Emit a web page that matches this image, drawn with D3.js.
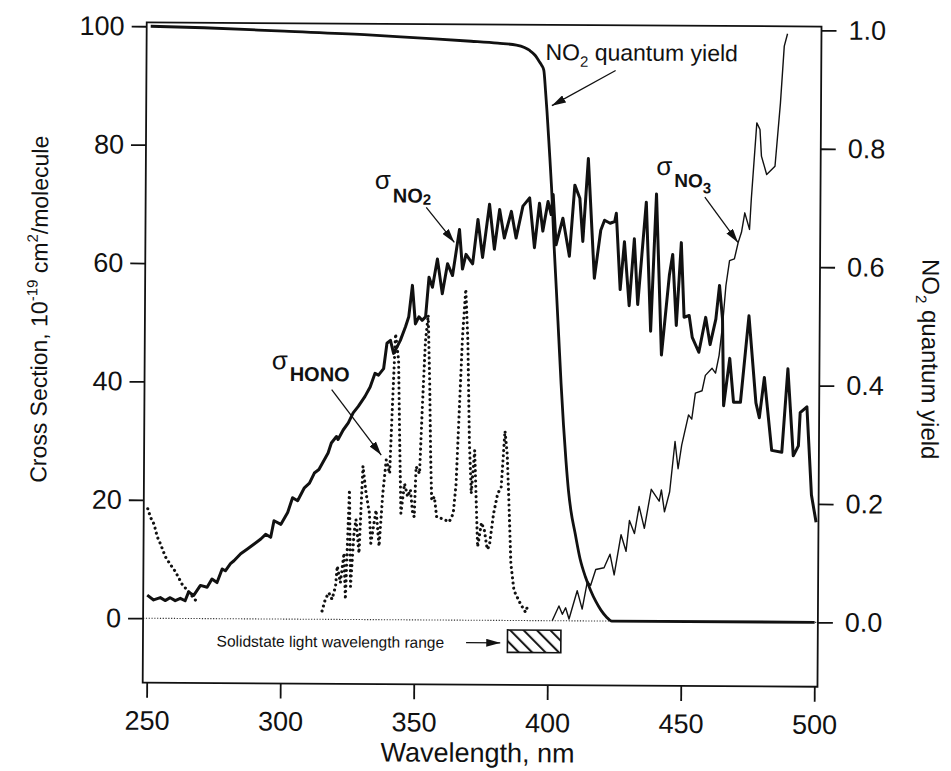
<!DOCTYPE html>
<html>
<head>
<meta charset="utf-8">
<script src="https://cdn.jsdelivr.net/npm/d3@7"></script>
<style>
  body { margin: 0; background: #fff; }
  svg { font-family: "Liberation Sans", Arial, sans-serif; }
</style>
</head>
<body>
<svg id="chart" width="951" height="771"></svg>
<script>
// NO2 cross section (10^-19 cm2/molecule) vs wavelength (nm)
const no2Wl = [250, 252.4, 254.9, 256.7, 258.6, 260.5, 262.4, 264.2, 265.5, 267.4, 269.9, 272.4, 274.2, 276.1, 278, 279.2,
  281.1, 282.4, 284.9, 287.4, 289.8, 292.4, 294.2, 296.1, 297.3, 299.9, 302.4, 304.2, 306.1, 308.6, 310.5, 312.3, 314,
  317.4, 318.6, 320.5, 321.1, 323, 324.9, 326.7, 328.6, 331.1, 333, 334.8, 336.1, 338, 339.2, 340.5, 341.7, 343, 344.2,
  346.1, 347.3, 348.6, 349.8, 351.1, 352.3, 353.6, 354.8, 356.1, 357.9, 359.8, 361.7, 363.6, 366.1, 367.3, 368.6, 371.1,
  373, 374.8, 377.3, 379.2, 381.1, 382.9, 385.5, 387.3, 389.8, 392.3, 394.2, 396, 397.3, 399.2, 400.4, 401.1, 402.3,
  404.8, 407.3, 409.2, 411.1, 412.3, 414.2, 416.7, 419, 420.4, 422.5, 424.2, 424.8, 426.4, 427.9, 429.8, 431.6, 433,
  436, 437.9, 439.8, 442, 444.8, 446, 447.5, 449.2, 450.4, 452.3, 453.5, 456, 458.5, 460.2, 462.3, 463.6, 464.8, 465.4,
  467.6, 469.1, 471.7, 474.7, 477.5, 478.8, 480.6, 483.5, 487.3, 489.4, 491.6, 493.5, 494.1, 496.6, 498.5, 500.3];
const no2Cs = [3.9, 3.1, 3.5, 3.0, 3.5, 3.0, 3.4, 3.0, 4.5, 3.9, 5.6, 5.3, 6.7, 6.1, 8.4, 8.1,
  9.3, 9.8, 11, 11.8, 12.6, 13.5, 14.3, 13.8, 16.6, 16, 18, 20.5, 20, 22.2, 23, 24.7, 25.3,
  28.1, 29.8, 30.9, 30.4, 32, 33.2, 34.9, 36, 37.7, 39.3, 41.6, 41.3, 42.4, 46.7, 47.2, 45, 46.1, 47.2,
  49.5, 51.2, 56.5, 50, 51.2, 50.6, 51.2, 57.9, 56.2, 61, 55.1, 60.2, 58.2, 66, 59.3, 61.8, 60.2,
  67.7, 61.3, 70.3, 62.7, 69.4, 64.6, 69.1, 64.6, 70, 71.4, 63, 70.5, 65.8, 70.8, 68.6, 72, 63.5,
  68, 61.6, 73.6, 71.4, 64.1, 78.1, 57.9, 66, 67.7, 67.2, 67.5, 68.9, 56, 64.1, 53.3, 64.6, 53.5,
  70.8, 49, 72.2, 45, 58.5, 62, 50, 64, 51.4, 51.7, 48, 45.5, 51.4, 46.8, 51.1, 56.8, 51.1, 36.5,
  44.5, 37.1, 37.1, 51.7, 37, 34.5, 41.3, 29, 28.7, 42.8, 28.1, 29.8, 35.4, 36.4, 21.5, 16.9];

// NO3 cross section
const no3Wl = [401.7, 404.2, 405.5, 406.7, 408, 411, 412.9, 414.8, 416, 417.9, 421, 423.2, 424.8, 427.3, 429.2, 430.4,
  432.3, 434, 436, 438.5, 441.5, 442.3, 443.5, 445.4, 447.3, 448.5, 449.8, 452.3, 453.5, 454.8, 457.3, 458.5, 461,
  462.3, 463.6, 464.8, 466, 467.3, 469.1, 470.5, 471.7, 472.9, 474.7, 475.3, 477.2, 478.4, 479, 481, 484.1, 486,
  487.3, 488.5];
const no3Cs = [0, 2.5, 1.1, 2.2, 0.3, 5.1, 2, 6.7, 6, 8.7, 9, 11.3, 7.8, 14.6, 11.8, 17,
  14.8, 19.4, 15.7, 22.3, 20.3, 22.2, 18.5, 21.9, 30.4, 25.8, 29.8, 34.9, 34.2, 38.6, 39, 41.6, 42.8,
  42, 45, 50, 56.8, 61, 61.3, 64.1, 65.8, 69.1, 66.3, 71.4, 84.3, 83.2, 78.7, 75.6, 77, 87.7,
  97.3, 99.4];

// HONO cross section (null = no data between the two bands)
const honoWl = [250, 251.1, 252.4, 253.6, 254.9, 256.7, 258.6, 260.5, 263, 265.5, 269.2, 292,
  315.5, 316.7, 318, 319.2, 320.5, 321.1, 322.3, 323.6, 324.2, 325.5, 326.1, 327.3, 328, 329.2, 330.5, 331.7,
  333, 333.6, 335.5, 336.7, 338, 339.2, 340.5, 341.3, 342.4, 343.6, 344.2, 344.8, 346.1, 347.3, 348.3, 349.2,
  349.8, 350.4, 351.7, 352.6, 353.6, 354.6, 355.3, 355.8, 356.3, 357.3, 358.2, 359.8, 362.9, 364.4, 365.4,
  366.4, 367.5, 368.6, 369.5, 370.3, 371.1, 372.3, 373.6, 375, 376.1, 377.2, 378, 379.5, 381, 382.3, 383.6,
  384.5, 385.4, 386.1, 387.3, 389.8, 391.7, 392.3];
const honoCs = [18.5, 17, 15.9, 13.8, 12.5, 10.4, 9.1, 7.9, 5.8, 4.5, 2.5, null,
  1.4, 3.4, 4.5, 3.4, 5.6, 9, 6.2, 11.2, 3.4, 21.9, 5.6, 14.6, 16.9, 11.2, 25.9, 21.4,
  18, 12.9, 18.5, 12.4, 21.4, 27, 24.7, 35, 48.3, 43.8, 30, 18, 23, 20.8, 22, 18,
  17.4, 25.9, 24.7, 36, 47, 51.5, 40, 28, 20.2, 20.8, 17.4, 17.2, 16.6, 18, 23,
  35, 48, 55.9, 47, 30, 21.4, 28.7, 12.4, 16.5, 15.2, 12, 12.6, 18, 21.4, 22.5, 32,
  28, 18, 9.6, 5.1, 2.8, 1.4, 2.2];

// NO2 quantum yield (right axis)
const qyWl = [250, 270, 300, 330, 350, 370, 380, 387, 390, 392, 394, 395.5, 396.5, 397.3, 398, 398.6, 399.5, 400.5,
  401.6, 402.5, 403.5, 404.5, 405.5, 406.5, 407.5, 408.5, 410, 412, 414, 416, 418, 420, 422, 424, 500];
const qyVal = [1.0, 0.998, 0.993, 0.988, 0.983, 0.978, 0.975, 0.972, 0.968, 0.963, 0.955, 0.945, 0.938, 0.93, 0.895, 0.86, 0.8, 0.73,
  0.63, 0.56, 0.48, 0.4, 0.33, 0.27, 0.22, 0.185, 0.15, 0.105, 0.075, 0.052, 0.033, 0.018, 0.007, 0, 0];

const xTicks = [250, 300, 350, 400, 450, 500];
const yTicks = [0, 20, 40, 60, 80, 100];
const qyTicks = [0, 0.2, 0.4, 0.6, 0.8, 1.0];
const lightRange = [385, 405];

const ink = "#111";
const plot = { left: 144.7, right: 819.5, top: 24.5, bottom: 684.7 };

const svg = d3.select("#chart");
// the scanned figure sits slightly rotated on the page
const g = svg.append("g").attr("transform", "rotate(0.35,482,355)");

const x = d3.scaleLinear().domain([248.5, 501.2]).range([plot.left, plot.right]);
const y = d3.scaleLinear().domain([-10.88, 100.64]).range([plot.bottom, plot.top]);
const yR = d3.scaleLinear().domain([-0.1088, 1.0064]).range([plot.bottom, plot.top]);

const defs = svg.append("defs");
defs.append("marker")
    .attr("id", "head")
    .attr("viewBox", "0 0 14 8")
    .attr("refX", 14).attr("refY", 4)
    .attr("markerWidth", 14).attr("markerHeight", 8)
    .attr("markerUnits", "userSpaceOnUse")
    .attr("orient", "auto")
  .append("path")
    .attr("d", "M0,0L14,4L0,8Z")
    .attr("fill", ink);

defs.append("pattern")
    .attr("id", "hatch")
    .attr("patternUnits", "userSpaceOnUse")
    .attr("width", 9.5).attr("height", 9.5)
    .attr("patternTransform", "rotate(-45)")
  .append("line")
    .attr("x1", 2).attr("y1", 0).attr("x2", 2).attr("y2", 9.5)
    .attr("stroke", ink).attr("stroke-width", 2);

// zero line
g.append("line")
    .attr("x1", plot.left).attr("x2", plot.right)
    .attr("y1", y(0)).attr("y2", y(0))
    .attr("stroke", "#333").attr("stroke-width", 1.1)
    .attr("stroke-dasharray", "1.2,1.6");

const line = d3.line()
    .defined(d => d[1] != null)
    .x(d => x(d[0]))
    .y(d => y(d[1]));

g.append("path")
    .attr("d", line(d3.zip(honoWl, honoCs)))
    .attr("fill", "none").attr("stroke", ink)
    .attr("stroke-width", 3.1).attr("stroke-linecap", "round")
    .attr("stroke-dasharray", "0.01,5.2");

g.append("path")
    .attr("d", line(d3.zip(no3Wl, no3Cs)))
    .attr("fill", "none").attr("stroke", ink)
    .attr("stroke-width", 1.4).attr("stroke-linejoin", "round");

g.append("path")
    .attr("d", line(d3.zip(no2Wl, no2Cs)))
    .attr("fill", "none").attr("stroke", ink)
    .attr("stroke-width", 3).attr("stroke-linejoin", "round");

const qyLine = d3.line()
    .curve(d3.curveMonotoneX)
    .x(d => x(d[0]))
    .y(d => yR(d[1]));

g.append("path")
    .attr("d", qyLine(d3.zip(qyWl, qyVal)))
    .attr("fill", "none").attr("stroke", ink)
    .attr("stroke-width", 2.8);

// solid state light box
g.append("rect")
    .attr("x", x(lightRange[0])).attr("width", x(lightRange[1]) - x(lightRange[0]))
    .attr("y", y(-1.6)).attr("height", y(-5.4) - y(-1.6))
    .attr("fill", "url(#hatch)")
    .attr("stroke", ink).attr("stroke-width", 1.6);

g.append("text")
    .attr("x", x(276.1)).attr("y", y(-4.7))
    .attr("font-size", 15.5).attr("fill", ink)
    .text("Solidstate light wavelength range");

// annotation arrows [from, to] in data units
const arrows = [
  [[424.2, 93.0], [400.4, 87.0]],
  [[353.6, 69.7], [364.2, 63.8]],
  [[457.9, 71.7], [470.4, 64.1]],
  [[318.6, 38.8], [337.3, 27.8]],
  [[369.5, -3.8], [382.3, -3.8]]
];
g.selectAll(".arrow")
    .data(arrows)
    .enter().append("line")
    .attr("class", "arrow")
    .attr("x1", d => x(d[0][0])).attr("y1", d => y(d[0][1]))
    .attr("x2", d => x(d[1][0])).attr("y2", d => y(d[1][1]))
    .attr("stroke", ink).attr("stroke-width", 1.3)
    .attr("marker-end", "url(#head)");

// NO2 quantum yield label
const qyLabel = g.append("text")
    .attr("x", x(397.9)).attr("y", y(94.7))
    .attr("font-size", 23).attr("fill", ink);
qyLabel.append("tspan").text("NO");
qyLabel.append("tspan").attr("font-size", 15).attr("dy", 6.5).text("2");
qyLabel.append("tspan").attr("dy", -6.5).text(" quantum yield");

// sigma labels
function sigma(lx, ly, sub, subSize, idx, dyMain, dyIdx) {
  const t = g.append("text")
      .attr("x", x(lx)).attr("y", y(ly))
      .attr("font-size", 26).attr("fill", ink);
  t.append("tspan").text("σ");
  t.append("tspan").attr("dx", 2).attr("dy", dyMain)
      .attr("font-size", subSize).attr("font-weight", "bold").text(sub);
  if (idx) t.append("tspan").attr("dy", dyIdx)
      .attr("font-size", 15).attr("font-weight", "bold").text(idx);
}
sigma(334.3, 72.8, "NO", 20, "2", 13.7, 2);
sigma(439.7, 75.4, "NO", 19, "3", 12, 6);
sigma(296.1, 42.2, "HONO", 20, null, 11.7, 0);

// axes
const fontSize = 27;
const xAxis = g.append("g")
    .attr("transform", "translate(0," + plot.bottom + ")")
    .call(d3.axisBottom(x).tickValues(xTicks).tickSize(15).tickPadding(13));
const yAxis = g.append("g")
    .attr("transform", "translate(" + plot.left + ",0)")
    .call(d3.axisLeft(y).tickValues(yTicks).tickSize(15).tickPadding(7));
const yAxisR = g.append("g")
    .attr("transform", "translate(" + plot.right + ",0)")
    .call(d3.axisRight(yR).tickValues(qyTicks).tickSize(15).tickPadding(12).tickFormat(d3.format(".1f")));

[xAxis, yAxis, yAxisR].forEach(a => {
  a.select(".domain").remove();
  a.selectAll(".tick line").attr("stroke", ink).attr("stroke-width", 1.8);
  a.selectAll(".tick text")
      .attr("font-family", "Liberation Sans, Arial, sans-serif")
      .attr("font-size", fontSize).attr("fill", ink);
});

// frame
g.append("rect")
    .attr("x", plot.left).attr("y", plot.top)
    .attr("width", plot.right - plot.left).attr("height", plot.bottom - plot.top)
    .attr("fill", "none").attr("stroke", ink).attr("stroke-width", 1.8);

// axis titles
g.append("text")
    .attr("x", 480).attr("y", 762)
    .attr("text-anchor", "middle")
    .attr("font-size", fontSize).attr("fill", ink)
    .text("Wavelength, nm");

const leftTitle = g.append("text")
    .attr("transform", "translate(47,312) rotate(-90)")
    .attr("text-anchor", "middle")
    .attr("font-size", 23).attr("fill", ink);
leftTitle.append("tspan").text("Cross Section, 10");
leftTitle.append("tspan").attr("font-size", 15).attr("dy", -10).text("-19");
leftTitle.append("tspan").attr("dy", 10).text(" cm");
leftTitle.append("tspan").attr("font-size", 15).attr("dy", -10).text("2");
leftTitle.append("tspan").attr("dy", 10).text("/molecule");

const rightTitle = g.append("text")
    .attr("transform", "translate(922,356.5) rotate(90)")
    .attr("text-anchor", "middle")
    .attr("font-size", 24).attr("fill", ink);
rightTitle.append("tspan").text("NO");
rightTitle.append("tspan").attr("font-size", 15).attr("dy", 6.5).text("2");
rightTitle.append("tspan").attr("dy", -6.5).text(" quantum yield");
</script>
</body>
</html>
